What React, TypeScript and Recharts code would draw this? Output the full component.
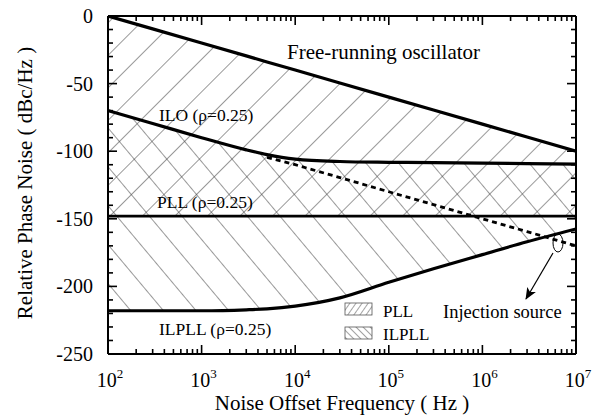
import React from "react";
import { ComposedChart, Area, Line, XAxis, YAxis } from "recharts";

// Noise offset frequency (Hz)
const freqs = [1e2, 3e2, 1e3, 3e3, 5e3, 1e4, 3e4, 1e5, 3e5, 1e6, 3e6, 1e7];
// Relative phase noise (dBc/Hz)
const freeRunning = [0, -9.5, -20, -29.5, -34, -40, -49.5, -60, -69.5, -80, -89.5, -100];
const ilo = [-70, -79.5, -90, -99, -102.5, -105.8, -107.6, -108.2, -108.5, -108.8, -109.2, -109.6];
const pll = [-148, -148, -148, -148, -148, -148, -148, -148, -148, -148, -148, -148];
const ilpll = [-218, -218, -218, -217.3, -216.6, -214.6, -208.5, -197, -187, -176.5, -167, -157.5];
const injection = [null, null, null, null, -104.5, -110, -119.5, -130, -139.5, -150, -159.5, -170];

const xTicks = [2, 3, 4, 5, 6, 7].flatMap((e) =>
  e === 7 ? [1e7] : [1, 2, 3, 4, 5, 6, 7, 8, 9].map((m) => m * 10 ** e)
);
const yTicks = Array.from({ length: 26 }, (_, i) => -250 + i * 10);

const W = 598;
const H = 418;
const PL = 108;
const PR = 576;
const PT = 16;
const PB = 354;
const FONT = "'Liberation Serif', 'DejaVu Serif', serif";

const data = freqs.map((f, i) => ({
  f,
  free: freeRunning[i],
  ilo: ilo[i],
  pll: pll[i],
  ilpll: ilpll[i],
  inj: injection[i],
  pllBand: [pll[i], freeRunning[i]],
  ilpllBand: [ilpll[i], ilo[i]],
}));

const isDecade = (v: number) => Math.abs(Math.log10(v) - Math.round(Math.log10(v))) < 1e-9;

function bottomTick(props: any) {
  const { x, payload, index } = props;
  const v = payload.value as number;
  const major = isDecade(v);
  return (
    <g key={`bt-${index}`}>
      <line x1={x} x2={x} y1={PB} y2={PB - (major ? 9 : 5)} stroke="#000" strokeWidth={1.6} />
      {major && (
        <text x={x + 2} y={387} textAnchor="middle" fontFamily={FONT} fontSize={20} fill="#000">
          10
          <tspan dy={-9} fontSize={13}>
            {Math.round(Math.log10(v))}
          </tspan>
        </text>
      )}
    </g>
  );
}

function topTick(props: any) {
  const { x, payload, index } = props;
  const major = isDecade(payload.value);
  return (
    <g key={`tt-${index}`}>
      <line x1={x} x2={x} y1={PT} y2={PT + (major ? 9 : 5)} stroke="#000" strokeWidth={1.6} />
    </g>
  );
}

function leftTick(props: any) {
  const { y, payload, index } = props;
  const v = payload.value as number;
  const major = v % 50 === 0;
  return (
    <g key={`lt-${index}`}>
      <line x1={PL} x2={PL + (major ? 9 : 5)} y1={y} y2={y} stroke="#000" strokeWidth={1.6} />
      {major && (
        <text x={93} y={y + 7} textAnchor="end" fontFamily={FONT} fontSize={20} fill="#000">
          {v}
        </text>
      )}
    </g>
  );
}

function rightTick(props: any) {
  const { y, payload, index } = props;
  const major = payload.value % 50 === 0;
  return (
    <g key={`rt-${index}`}>
      <line x1={PR} x2={PR - (major ? 9 : 5)} y1={y} y2={y} stroke="#000" strokeWidth={1.6} />
    </g>
  );
}

export default function App() {
  return (
    <div style={{ position: "absolute", left: 0, top: 0, width: W, height: H, background: "#fff" }}>
      <ComposedChart width={W} height={H} data={data} margin={{ top: 15, right: 21, bottom: 14, left: 48 }}>
        <defs>
          <pattern id="hatchPll" patternUnits="userSpaceOnUse" width={23} height={23} patternTransform="rotate(45)">
            <line x1={0} y1={0} x2={0} y2={23} stroke="#444" strokeWidth={1.1} />
          </pattern>
          <pattern id="hatchIlpll" patternUnits="userSpaceOnUse" width={25} height={25} patternTransform="rotate(-40)">
            <line x1={0} y1={0} x2={0} y2={25} stroke="#444" strokeWidth={1.1} />
          </pattern>
        </defs>
        <XAxis
          dataKey="f"
          type="number"
          scale="log"
          domain={[1e2, 1e7]}
          ticks={xTicks}
          interval={0}
          height={50}
          axisLine={{ stroke: "#000", strokeWidth: 2 }}
          tickLine={false}
          tick={bottomTick}
          allowDataOverflow
        />
        <XAxis
          xAxisId="top"
          dataKey="f"
          type="number"
          scale="log"
          domain={[1e2, 1e7]}
          ticks={xTicks}
          interval={0}
          orientation="top"
          height={1}
          axisLine={{ stroke: "#000", strokeWidth: 2 }}
          tickLine={false}
          tick={topTick}
          allowDataOverflow
        />
        <YAxis
          type="number"
          domain={[-250, 0]}
          ticks={yTicks}
          interval={0}
          width={60}
          axisLine={{ stroke: "#000", strokeWidth: 2 }}
          tickLine={false}
          tick={leftTick}
          allowDataOverflow
        />
        <YAxis
          yAxisId="right"
          orientation="right"
          type="number"
          domain={[-250, 0]}
          ticks={yTicks}
          interval={0}
          width={1}
          axisLine={{ stroke: "#000", strokeWidth: 2 }}
          tickLine={false}
          tick={rightTick}
          allowDataOverflow
        />

        <Area dataKey="pllBand" type="linear" stroke="none" fill="url(#hatchPll)" fillOpacity={1} isAnimationActive={false} />
        <Area dataKey="ilpllBand" type="monotone" stroke="none" fill="url(#hatchIlpll)" fillOpacity={1} isAnimationActive={false} />

        <Line dataKey="free" type="linear" stroke="#000" strokeWidth={3.2} dot={false} isAnimationActive={false} />
        <Line dataKey="pll" type="linear" stroke="#000" strokeWidth={2.8} dot={false} isAnimationActive={false} />
        <Line dataKey="inj" type="linear" stroke="#000" strokeWidth={2.8} strokeDasharray="5 4" dot={false} connectNulls={false} isAnimationActive={false} />
        <Line dataKey="ilo" type="monotone" stroke="#000" strokeWidth={3.2} dot={false} isAnimationActive={false} />
        <Line dataKey="ilpll" type="monotone" stroke="#000" strokeWidth={3.2} dot={false} isAnimationActive={false} />
      </ComposedChart>

      <svg width={W} height={H} style={{ position: "absolute", left: 0, top: 0, pointerEvents: "none" }}>
        <defs>
          <pattern id="legPll" patternUnits="userSpaceOnUse" width={5} height={5} patternTransform="rotate(35)">
            <line x1={0} y1={0} x2={0} y2={5} stroke="#333" strokeWidth={0.9} />
          </pattern>
          <pattern id="legIlpll" patternUnits="userSpaceOnUse" width={5} height={5} patternTransform="rotate(-45)">
            <line x1={0} y1={0} x2={0} y2={5} stroke="#333" strokeWidth={0.9} />
          </pattern>
          <marker id="arrowHead" markerWidth={12} markerHeight={10} refX={11} refY={5} orient="auto" markerUnits="userSpaceOnUse">
            <path d="M0,0 L12,5 L0,10 L3,5 Z" fill="#000" />
          </marker>
        </defs>

        <g fontFamily={FONT} fill="#000">
          <text x={287} y={59} fontSize={21}>Free-running oscillator</text>
          <text x={159} y={121} fontSize={17.5}>ILO (ρ=0.25)</text>
          <text x={157} y={208} fontSize={17.5}>PLL (ρ=0.25)</text>
          <text x={159} y={335} fontSize={17.5}>ILPLL (ρ=0.25)</text>
          <text x={443} y={318} fontSize={18.5}>Injection source</text>
          <text x={383} y={317} fontSize={17}>PLL</text>
          <text x={383} y={340} fontSize={17}>ILPLL</text>
          <text x={342} y={410} fontSize={21} textAnchor="middle">Noise Offset Frequency ( Hz )</text>
          <text x={32} y={183} fontSize={21} textAnchor="middle" transform="rotate(-90 32 183)">
            Relative Phase Noise ( dBc/Hz )
          </text>
        </g>

        <rect x={345} y={303} width={27} height={12} fill="url(#legPll)" stroke="#555" strokeWidth={0.8} />
        <rect x={345} y={327} width={27} height={12} fill="url(#legIlpll)" stroke="#555" strokeWidth={0.8} />

        <ellipse cx={558} cy={243} rx={5} ry={9} fill="none" stroke="#000" strokeWidth={1} />
        <line x1={553} y1={253} x2={526} y2={299} stroke="#000" strokeWidth={1.2} markerEnd="url(#arrowHead)" />
      </svg>
    </div>
  );
}
